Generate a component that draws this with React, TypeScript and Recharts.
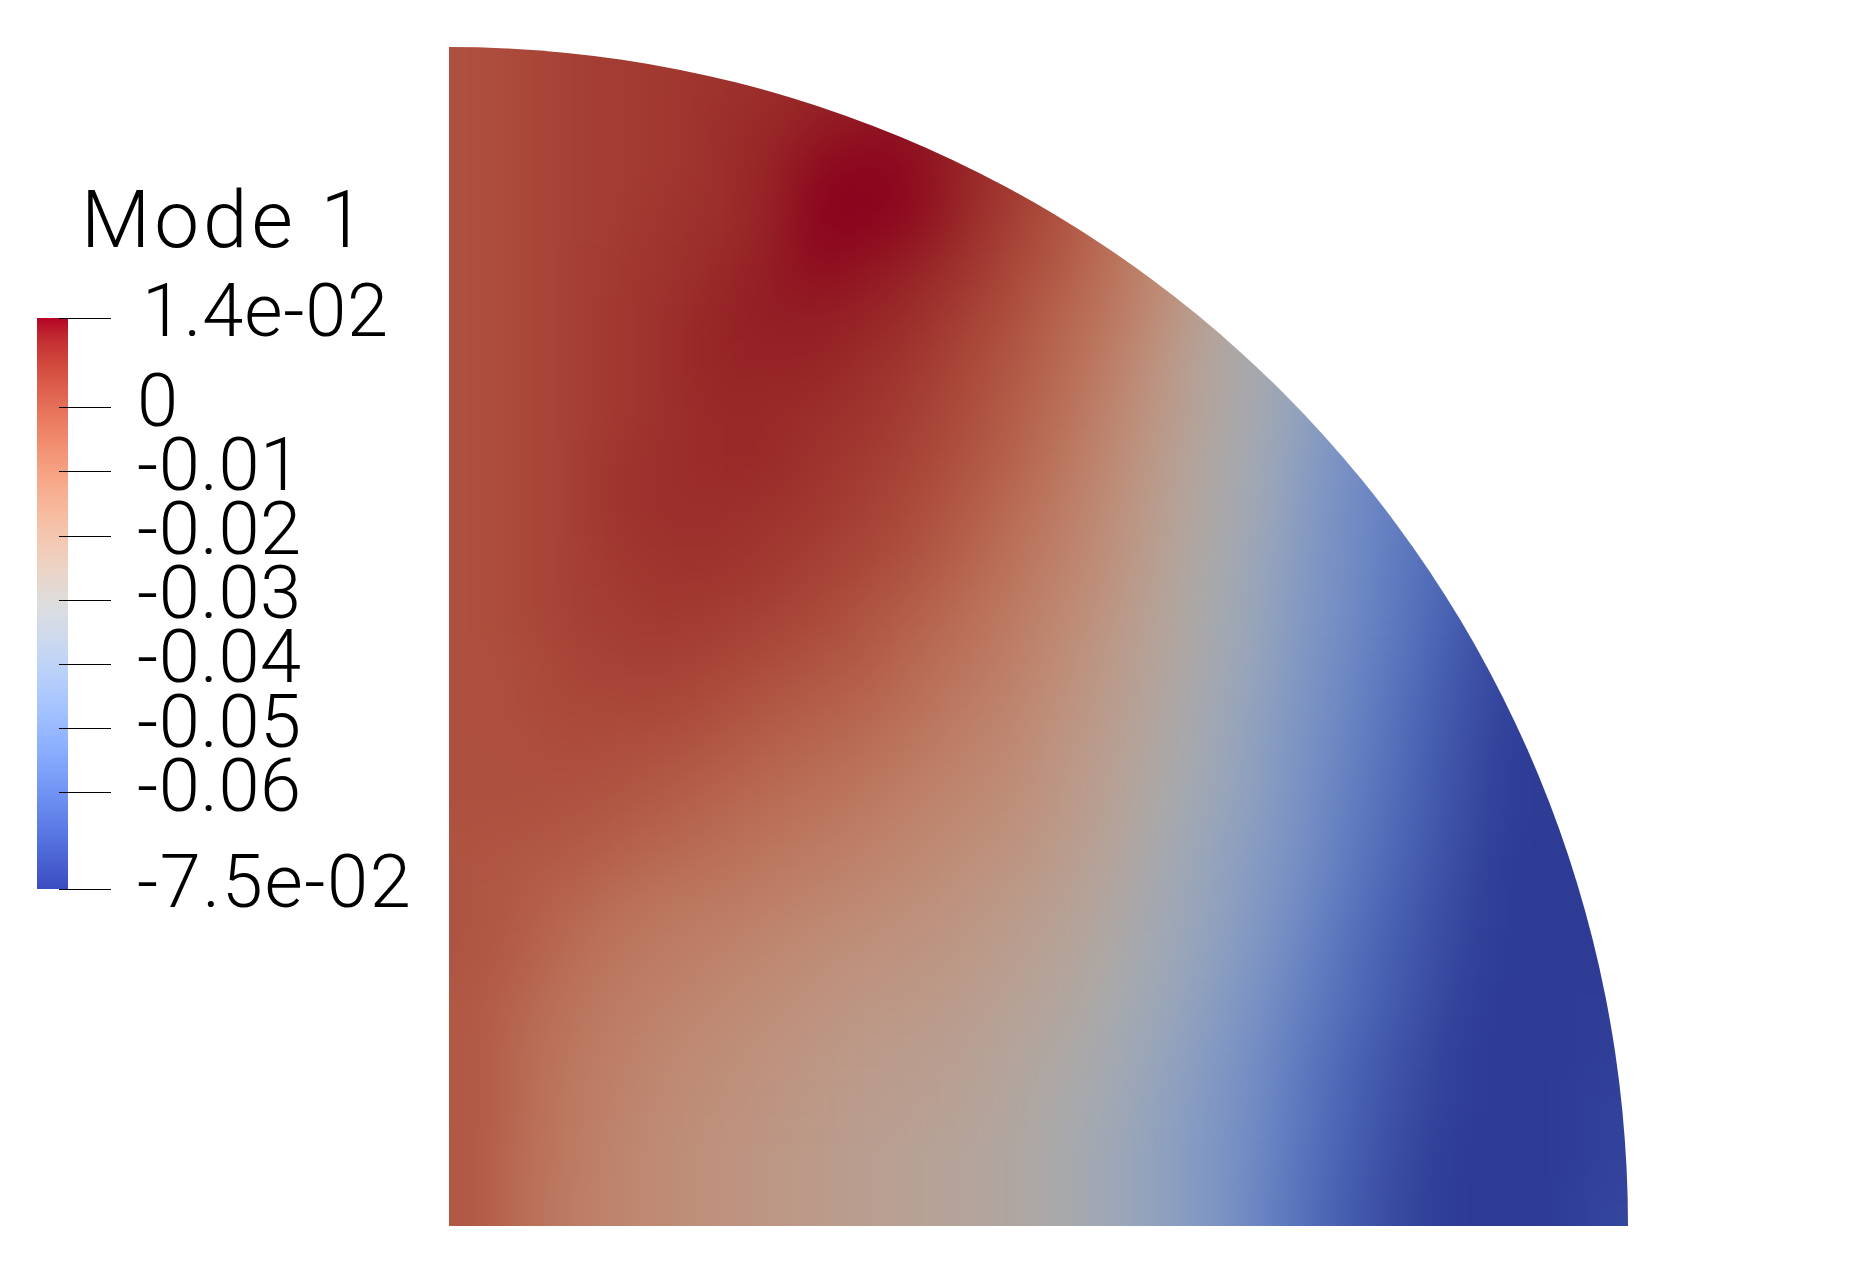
import { Bar, BarChart, Scatter, ScatterChart, XAxis, YAxis } from "recharts";

// colour scale range and the legend ticks
const RANGE_MIN = -0.075;
const RANGE_MAX = 0.014;
const TICKS = [0.014, 0, -0.01, -0.02, -0.03, -0.04, -0.05, -0.06, -0.075];
const TICK_LABELS = ["1.4e-02", "0", "-0.01", "-0.02", "-0.03", "-0.04", "-0.05", "-0.06", "-7.5e-02"];

// cool to warm ramp, low to high
const RAMP = [
  [59, 76, 192], [68, 90, 204], [77, 104, 215], [87, 117, 225], [98, 130, 234], [108, 142, 241],
  [119, 154, 247], [130, 165, 251], [141, 176, 254], [152, 185, 255], [163, 194, 255], [174, 201, 253],
  [184, 208, 249], [194, 213, 244], [204, 217, 238], [213, 219, 230], [221, 221, 221], [229, 216, 209],
  [236, 211, 197], [241, 204, 185], [245, 196, 173], [247, 187, 160], [247, 177, 148], [247, 166, 135],
  [244, 154, 123], [241, 141, 111], [236, 127, 99], [229, 112, 88], [222, 96, 77], [213, 80, 66],
  [203, 62, 56], [192, 40, 47], [180, 4, 38],
];

// field, top row first, in percent of the colour range
const row00 = [86, 88, 90, 91, 92, 93, 94, 95, 96, 96, 94, 90, 85, 78, 70, 60, 50, 42, 35, 28, 20, 12, 6, 2];
const row01 = [86, 88, 90, 91, 92, 94, 95, 97, 98, 98, 95, 91, 85, 78, 70, 60, 50, 42, 35, 28, 20, 12, 6, 2];
const row02 = [86, 88, 90, 91, 92, 94, 96, 99, 100, 99, 96, 92, 86, 78, 70, 60, 50, 42, 34, 27, 20, 12, 6, 2];
const row03 = [86, 88, 90, 91, 93, 94, 96, 100, 100, 99, 95, 90, 85, 78, 70, 60, 50, 41, 34, 27, 19, 12, 6, 2];
const row04 = [86, 88, 90, 92, 93, 95, 97, 99, 98, 96, 93, 88, 83, 76, 68, 58, 50, 41, 33, 26, 18, 11, 5, 2];
const row05 = [86, 88, 90, 92, 94, 96, 97, 97, 96, 94, 90, 86, 80, 75, 66, 56, 49, 40, 32, 25, 17, 10, 4, 1];
const row06 = [86, 88, 90, 92, 94, 96, 96, 96, 94, 92, 88, 84, 79, 72, 63, 54, 48, 39, 31, 24, 16, 9, 4, 1];
const row07 = [86, 88, 90, 92, 94, 95, 95, 94, 93, 90, 87, 82, 77, 70, 62, 54, 47, 37, 29, 22, 15, 8, 3, 1];
const row08 = [86, 88, 90, 93, 94, 95, 95, 93, 91, 89, 85, 81, 75, 68, 60, 52, 45, 35, 27, 21, 14, 7, 3, 1];
const row09 = [86, 88, 90, 93, 94, 94, 93, 92, 90, 87, 83, 78, 73, 66, 59, 52, 44, 34, 26, 20, 13, 6, 2, 0];
const row10 = [86, 88, 90, 92, 93, 93, 92, 90, 88, 85, 81, 76, 71, 65, 57, 50, 42, 33, 26, 19, 12, 5, 1, 0];
const row11 = [86, 88, 90, 91, 92, 91, 90, 88, 85, 82, 78, 74, 69, 63, 56, 49, 41, 32, 25, 18, 11, 4, 1, 0];
const row12 = [86, 87, 89, 90, 90, 89, 87, 85, 83, 79, 76, 72, 67, 61, 55, 48, 40, 31, 24, 17, 9, 3, 0, 0];
const row13 = [86, 87, 88, 88, 88, 86, 84, 82, 80, 77, 73, 70, 65, 60, 53, 46, 38, 30, 23, 15, 8, 2, 0, 0];
const row14 = [86, 86, 87, 86, 85, 83, 81, 79, 77, 74, 71, 68, 63, 58, 52, 45, 37, 29, 22, 14, 7, 1, 0, 0];
const row15 = [86, 86, 85, 84, 82, 80, 78, 76, 74, 71, 69, 66, 62, 57, 50, 43, 36, 28, 20, 13, 6, 1, 0, 0];
const row16 = [85, 84, 83, 81, 79, 77, 75, 73, 71, 69, 66, 64, 60, 55, 48, 41, 34, 27, 19, 12, 5, 0, 0, 0];
const row17 = [85, 83, 80, 77, 75, 74, 72, 70, 68, 66, 64, 61, 58, 53, 46, 40, 33, 25, 17, 10, 4, 0, 0, 0];
const row18 = [85, 82, 78, 75, 73, 71, 69, 67, 65, 64, 62, 59, 56, 51, 45, 38, 31, 23, 15, 9, 3, 0, 0, 0];
const row19 = [84, 80, 76, 73, 71, 69, 67, 65, 63, 62, 60, 57, 54, 49, 43, 36, 29, 21, 14, 8, 2, 0, 0, 1];
const row20 = [84, 79, 75, 72, 69, 67, 65, 63, 61, 60, 58, 55, 52, 47, 41, 34, 27, 19, 12, 6, 1, 0, 0, 1];
const row21 = [84, 79, 74, 71, 68, 66, 64, 62, 60, 59, 57, 54, 50, 46, 39, 33, 26, 18, 11, 5, 1, 0, 0, 2];
const row22 = [84, 78, 74, 70, 67, 65, 63, 61, 59, 57, 55, 53, 49, 44, 38, 32, 25, 17, 10, 4, 0, 0, 0, 2];
const row23 = [84, 78, 73, 70, 67, 65, 63, 61, 59, 57, 55, 53, 49, 44, 38, 32, 24, 16, 9, 3, 0, 0, 0, 3];

const ROWS = [
  row00, row01, row02, row03, row04, row05, row06, row07, row08, row09, row10, row11,
  row12, row13, row14, row15, row16, row17, row18, row19, row20, row21, row22, row23,
];

const WIDTH = 1856;
const HEIGHT = 1270;
const LEFT = 449;
const TOP = 47;
const RADIUS = 1179;
const CELL = RADIUS / ROWS.length;
const BLEED = 70;
const LIGHT = 0.77;

function rampColor(pct: number, light = 1) {
  const pos = (Math.min(100, Math.max(0, pct)) / 100) * (RAMP.length - 1);
  const i = Math.min(RAMP.length - 2, Math.floor(pos));
  const f = pos - i;
  const c = RAMP[i].map((v, k) => Math.round((v + (RAMP[i + 1][k] - v) * f) * light));
  return `rgb(${c[0]},${c[1]},${c[2]})`;
}

const cells = ROWS.flatMap((row, r) =>
  row.map((pct, c) => ({
    u: (c + 0.5) / row.length,
    v: 1 - (r + 0.5) / ROWS.length,
    pct,
    r,
    c,
  }))
);

function FieldCell(props: any) {
  const { cx, cy, payload } = props;
  const { r, c, pct } = payload;
  // outer cells run past the edge so the blur does not fade at the clip
  const x0 = cx - CELL / 2 - (c === 0 ? BLEED : 0);
  const x1 = cx + CELL / 2 + 1 + (c === ROWS[0].length - 1 ? BLEED : 0);
  const y0 = cy - CELL / 2 - (r === 0 ? BLEED : 0);
  const y1 = cy + CELL / 2 + 1 + (r === ROWS.length - 1 ? BLEED : 0);
  return <rect x={x0} y={y0} width={x1 - x0} height={y1 - y0} fill={rampColor(pct, LIGHT)} />;
}

function LegendTick(props: any) {
  const { y, payload } = props;
  const label = TICK_LABELS[TICKS.indexOf(payload.value)];
  const lineY = Math.floor(y) + 0.5;
  const spacing = label === "-7.5e-02" ? 1.6 : label === "1.4e-02" ? 0.8 : 0.5;
  return (
    <g>
      <line x1={59} x2={111} y1={lineY} y2={lineY} stroke="#000" strokeWidth={1} />
      <text
        x={label === "1.4e-02" ? 142 : 137}
        y={y + 18}
        fontFamily="Roboto"
        fontWeight={300}
        fontSize={74}
        letterSpacing={spacing}
        fill="#000"
      >
        {label}
      </text>
    </g>
  );
}

export default function App() {
  return (
    <div style={{ position: "absolute", left: 0, top: 0, width: WIDTH, height: HEIGHT, background: "#fff" }}>
      <style>{`.field-layer{filter:url(#soften);clip-path:url(#quarter)}`}</style>
      <div style={{ position: "absolute", left: 0, top: 0 }}>
        <ScatterChart
          width={WIDTH}
          height={HEIGHT}
          margin={{ left: LEFT, top: TOP, right: WIDTH - LEFT - RADIUS, bottom: HEIGHT - TOP - RADIUS }}
        >
          <defs>
            <filter
              id="soften"
              filterUnits="userSpaceOnUse"
              x={0}
              y={0}
              width={WIDTH}
              height={HEIGHT}
              colorInterpolationFilters="sRGB"
            >
              <feGaussianBlur stdDeviation={24} />
            </filter>
            <clipPath id="quarter">
              <path
                d={`M${LEFT},${TOP + RADIUS}L${LEFT},${TOP}A${RADIUS},${RADIUS} 0 0 1 ${LEFT + RADIUS},${TOP + RADIUS}Z`}
              />
            </clipPath>
          </defs>
          <XAxis type="number" dataKey="u" domain={[0, 1]} hide />
          <YAxis type="number" dataKey="v" domain={[0, 1]} hide />
          <Scatter data={cells} shape={FieldCell} className="field-layer" isAnimationActive={false} />
        </ScatterChart>
      </div>
      <div style={{ position: "absolute", left: 0, top: 0 }}>
        <BarChart
          width={440}
          height={960}
          data={[{ name: "Mode 1", range: [RANGE_MIN, RANGE_MAX] }]}
          margin={{ left: 37, top: 318, right: 0, bottom: 71 }}
          barCategoryGap={0}
        >
          <defs>
            <linearGradient id="legendRamp" x1="0" y1="1" x2="0" y2="0">
              {RAMP.map((_, i) => (
                <stop key={i} offset={i / (RAMP.length - 1)} stopColor={rampColor((i / (RAMP.length - 1)) * 100)} />
              ))}
            </linearGradient>
          </defs>
          <XAxis dataKey="name" hide />
          <YAxis
            orientation="right"
            type="number"
            width={372}
            domain={[RANGE_MIN, RANGE_MAX]}
            ticks={TICKS}
            interval={0}
            axisLine={false}
            tickLine={false}
            tick={LegendTick}
          />
          <Bar dataKey="range" fill="url(#legendRamp)" isAnimationActive={false} />
          <text x={81} y={247} fontFamily="Roboto" fontWeight={300} fontSize={80} letterSpacing={4} fill="#000">
            Mode 1
          </text>
        </BarChart>
      </div>
    </div>
  );
}
